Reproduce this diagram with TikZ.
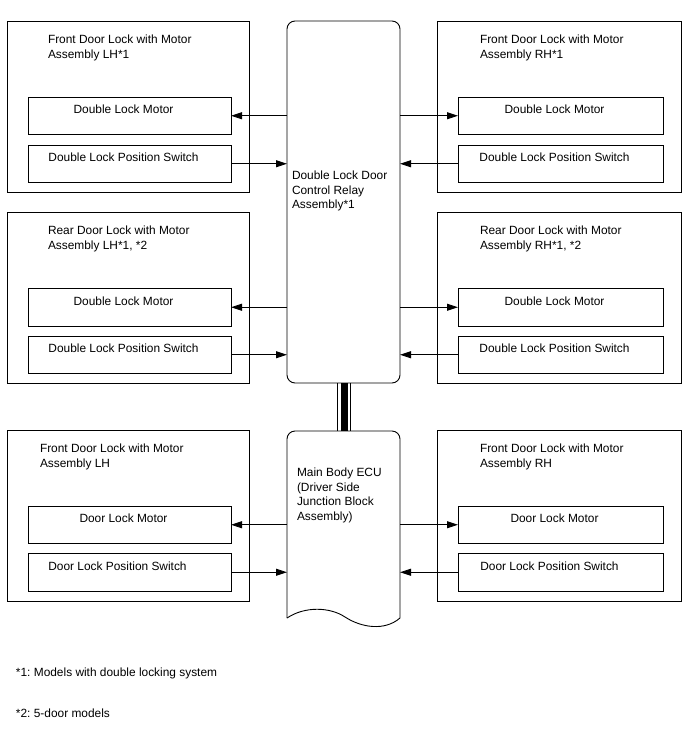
\documentclass[tikz,border=0pt]{standalone}
\usepackage{fontspec}
\setmainfont{Liberation Sans}
\usetikzlibrary{arrows.meta,calc}
\frenchspacing
\begin{document}
\frenchspacing
\begin{tikzpicture}[x=1pt,y=-1pt,
  every node/.style={inner sep=0pt,outer sep=0pt},
  txt/.style={font=\fontsize{11.9}{14.6}\selectfont\frenchspacing,align=left,anchor=base west},
  ctxt/.style={font=\fontsize{11.9}{14.6}\selectfont,anchor=base},
  outerbox/.style={draw,line width=0.9pt,anchor=north west,minimum height=171pt},
  leftouter/.style={outerbox,minimum width=242pt},
  rightouter/.style={outerbox,minimum width=244pt},
  innerbox/.style={draw,line width=0.9pt,anchor=north west,minimum height=37.5pt},
  leftinner/.style={innerbox,minimum width=203pt},
  rightinner/.style={innerbox,minimum width=205pt},
  arr/.style={line width=0.9pt,-{Triangle[length=11pt,width=7pt]}},
  ctrl/.style={draw,line width=0.9pt,rounded corners=8pt,anchor=north west,minimum width=113pt}
]
\useasboundingbox (0,0) rectangle (688,755);

% central units
\node[ctrl,minimum height=362pt] (relay) at (287,21) {};
\node[txt] (relaytxt) at (292,208.7) {Double Lock Door\\Control Relay\\Assembly*1};

\node[anchor=north west,minimum width=113pt,minimum height=187pt] (ecu) at (287,431) {};
\draw[line width=0.9pt,rounded corners=8pt] (ecu.south west) -- (ecu.north west) -- (ecu.north east) -- (ecu.south east);
\draw[line width=0.9pt] (ecu.south east) .. controls (385,631) and (362,628) .. (345,617)
  .. controls (330,607) and (305,606) .. (ecu.south west);
\node[txt] (ecutxt) at (297,520.3) {Main Body ECU\\(Driver Side\\Junction Block\\Assembly)};

% bus
\draw[line width=0.9pt] ([xshift=-6pt]relay.south) -- ([xshift=-6pt]ecu.north);
\draw[line width=0.9pt] ([xshift=6.8pt]relay.south) -- ([xshift=6.8pt]ecu.north);
\draw[line width=7pt] ([xshift=0.8pt]relay.south) -- ([xshift=0.8pt]ecu.north);

% ---------- Row 1 ----------
\node[leftouter] (oL1) at (7,21) {};
\node[txt] (tL1) at (48,58.1) {Front Door Lock with Motor\\Assembly LH*1};
\node[leftinner] (mL1) at (28,97) {};
\node[ctxt] at ($(mL1.north)+(-6,16.5)$) {Double Lock Motor};
\node[leftinner] (sL1) at (28,145) {};
\node[ctxt] at ($(sL1.north)+(-6,16.5)$) {Double Lock Position Switch};
\draw[arr] (relay.west |- mL1.east) -- (mL1.east);
\draw[arr] (sL1.east) -- (relay.west |- sL1.east);

\node[rightouter] (oR1) at (437,21) {};
\node[txt] (tR1) at (480,58.1) {Front Door Lock with Motor\\Assembly RH*1};
\node[rightinner] (mR1) at (458,97) {};
\node[ctxt] at ($(mR1.north)+(-6,16.5)$) {Double Lock Motor};
\node[rightinner] (sR1) at (458,145) {};
\node[ctxt] at ($(sR1.north)+(-6,16.5)$) {Double Lock Position Switch};
\draw[arr] (relay.east |- mR1.west) -- (mR1.west);
\draw[arr] (sR1.west) -- (relay.east |- sR1.west);

% ---------- Row 2 ----------
\node[leftouter] (oL2) at (7,212) {};
\node[txt] (tL2) at (48,249.1) {Rear Door Lock with Motor\\Assembly LH*1, *2};
\node[leftinner] (mL2) at (28,288.5) {};
\node[ctxt] at ($(mL2.north)+(-6,16.5)$) {Double Lock Motor};
\node[leftinner] (sL2) at (28,336) {};
\node[ctxt] at ($(sL2.north)+(-6,16.5)$) {Double Lock Position Switch};
\draw[arr] (relay.west |- mL2.east) -- (mL2.east);
\draw[arr] (sL2.east) -- (relay.west |- sL2.east);

\node[rightouter] (oR2) at (437,212) {};
\node[txt] (tR2) at (480,249.1) {Rear Door Lock with Motor\\Assembly RH*1, *2};
\node[rightinner] (mR2) at (458,288.5) {};
\node[ctxt] at ($(mR2.north)+(-6,16.5)$) {Double Lock Motor};
\node[rightinner] (sR2) at (458,336) {};
\node[ctxt] at ($(sR2.north)+(-6,16.5)$) {Double Lock Position Switch};
\draw[arr] (relay.east |- mR2.west) -- (mR2.west);
\draw[arr] (sR2.west) -- (relay.east |- sR2.west);

% ---------- Row 3 ----------
\node[leftouter] (oL3) at (7,430) {};
\node[txt] (tL3) at (40,467.1) {Front Door Lock with Motor\\Assembly LH};
\node[leftinner] (mL3) at (28,506) {};
\node[ctxt] at ($(mL3.north)+(-6,16.5)$) {Door Lock Motor};
\node[leftinner] (sL3) at (28,553.5) {};
\node[ctxt] at ($(sL3.north)+(-12,16.5)$) {Door Lock Position Switch};
\draw[arr] (ecu.west |- mL3.east) -- (mL3.east);
\draw[arr] (sL3.east) -- (ecu.west |- sL3.east);

\node[rightouter] (oR3) at (437,430) {};
\node[txt] (tR3) at (480,467.1) {Front Door Lock with Motor\\Assembly RH};
\node[rightinner] (mR3) at (458,506) {};
\node[ctxt] at ($(mR3.north)+(-6,16.5)$) {Door Lock Motor};
\node[rightinner] (sR3) at (458,553.5) {};
\node[ctxt] at ($(sR3.north)+(-11,16.5)$) {Door Lock Position Switch};
\draw[arr] (ecu.east |- mR3.west) -- (mR3.west);
\draw[arr] (sR3.west) -- (ecu.east |- sR3.west);

% footnotes
\node[txt] (fn1) at (16,676) {*1: Models with double locking system};
\node[txt] (fn2) at (16,717) {*2: 5-door models};
\end{tikzpicture}
\end{document}
